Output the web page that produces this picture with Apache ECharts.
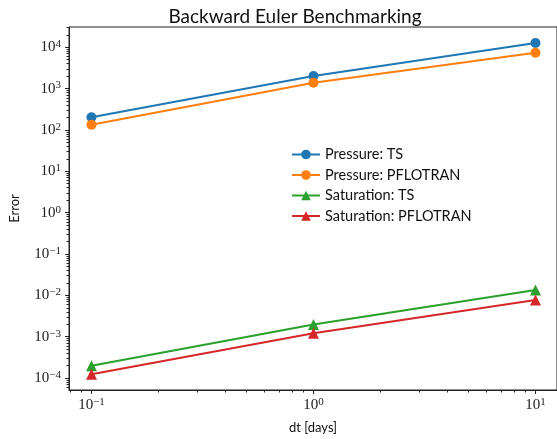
<!DOCTYPE html>
<html>
<head>
<meta charset="utf-8">
<script src="https://cdn.jsdelivr.net/npm/echarts@6/dist/echarts.min.js"></script>
<style>html,body{margin:0;padding:0;background:#fff}#c{width:557px;height:439px}</style>
</head>
<body>
<div id="c"></div>
<script>
// ---- data ----
const dt = [0.1, 1, 10];
const pressureTS = [202, 2020, 12700];
const pressurePF = [133, 1380, 7370];
const saturationTS = [1.99e-4, 1.97e-3, 1.35e-2];
const saturationPF = [1.24e-4, 1.21e-3, 7.7e-3];
const seriesNames = ['Pressure: TS', 'Pressure: PFLOTRAN', 'Saturation: TS', 'Saturation: PFLOTRAN'];
const xTickExponents = [-1, 0, 1];
const yTickExponents = [-4, -3, -2, -1, 0, 1, 2, 3, 4];
const xRange = [0.0792, 12.5];
const yRange = [5.13e-5, 3.09e4];

// ---- helpers ----
const lg = Math.log10;
function minorTicks(range) {
  const out = [];
  for (let e = Math.floor(lg(range[0])); e <= Math.ceil(lg(range[1])); e++) {
    for (let k = 2; k <= 9; k++) {
      const v = lg(k) + e;
      if (v >= lg(range[0]) && v <= lg(range[1])) out.push(v);
    }
  }
  return out;
}
function sup(e) {
  return '{b|10}{s|' + String(e).replace('-', '\u2212') + '}';
}
const labelRich = {
  b: { fontFamily: 'Liberation Serif', fontSize: 15, color: '#222' },
  s: { fontFamily: 'Liberation Serif', fontSize: 11, color: '#222', verticalAlign: 'top', padding: [0, 0, 6, 0] }
};
const axisColor = '#222';
const colors = ['#1f77b4', '#ff7f0e', '#2ca02c', '#d62728'];
const values = [pressureTS, pressurePF, saturationTS, saturationPF];
const symbols = ['circle', 'circle', 'triangle', 'triangle'];

const chart = echarts.init(document.getElementById('c'), null, { renderer: 'canvas' });
chart.setOption({
  animation: false,
  backgroundColor: '#fff',
  title: {
    text: 'Backward Euler Benchmarking',
    left: 290, top: 2, textAlign: 'center',
    textStyle: { fontFamily: 'Lato', fontWeight: 'normal', fontSize: 19, color: '#111' }
  },
  grid: { left: 61, top: 27, right: -2, bottom: 41, show: true, borderColor: axisColor, borderWidth: 1, backgroundColor: 'transparent' },
  legend: {
    left: 286, top: 142, orient: 'vertical',
    itemWidth: 28, itemHeight: 12, itemGap: 5.5,
    textStyle: { fontFamily: 'Lato', fontSize: 14.5, color: '#111' },
    data: seriesNames
  },
  xAxis: [
    { type: 'log', min: xRange[0], max: xRange[1], show: false },
    {
      type: 'value', position: 'bottom', min: lg(xRange[0]), max: lg(xRange[1]),
      splitLine: { show: false },
      axisLine: { show: true, onZero: false, lineStyle: { color: axisColor, width: 1 } },
      axisTick: { show: true, inside: false, length: 4, customValues: xTickExponents, lineStyle: { color: axisColor } },
      axisLabel: { show: true, margin: 7, customValues: xTickExponents, formatter: v => sup(v), rich: labelRich },
      name: 'dt [days]', nameLocation: 'middle', nameGap: 31,
      nameTextStyle: { fontFamily: 'Lato', fontSize: 13, color: '#111' }
    },
    {
      type: 'value', position: 'bottom', min: lg(xRange[0]), max: lg(xRange[1]),
      splitLine: { show: false }, axisLine: { show: false, onZero: false },
      axisTick: { show: true, inside: false, length: 2.5, customValues: minorTicks(xRange), lineStyle: { color: axisColor } },
      axisLabel: { show: false }
    }
  ],
  yAxis: [
    { type: 'log', min: yRange[0], max: yRange[1], show: false },
    {
      type: 'value', position: 'left', min: lg(yRange[0]), max: lg(yRange[1]),
      splitLine: { show: false },
      axisLine: { show: true, onZero: false, lineStyle: { color: axisColor, width: 1 } },
      axisTick: { show: true, inside: false, length: 4, customValues: yTickExponents, lineStyle: { color: axisColor } },
      axisLabel: { show: true, margin: 8, customValues: yTickExponents, formatter: v => sup(v), rich: labelRich },
      name: 'Error', nameLocation: 'middle', nameGap: 48, nameRotate: 90,
      nameTextStyle: { fontFamily: 'Lato', fontSize: 13, color: '#111' }
    },
    {
      type: 'value', position: 'left', min: lg(yRange[0]), max: lg(yRange[1]),
      splitLine: { show: false }, axisLine: { show: false, onZero: false },
      axisTick: { show: true, inside: false, length: 2.5, customValues: minorTicks(yRange), lineStyle: { color: axisColor } },
      axisLabel: { show: false }
    }
  ],
  series: seriesNames.map((name, i) => ({
    name: name,
    type: 'line',
    xAxisIndex: 0, yAxisIndex: 0,
    data: dt.map((x, j) => [x, values[i][j]]),
    symbol: symbols[i],
    symbolSize: symbols[i] === 'circle' ? 10 : 11,
    showSymbol: true,
    itemStyle: { color: colors[i] },
    lineStyle: { color: colors[i], width: 2 },
    z: 3 + i
  }))
});
</script>
</body>
</html>
